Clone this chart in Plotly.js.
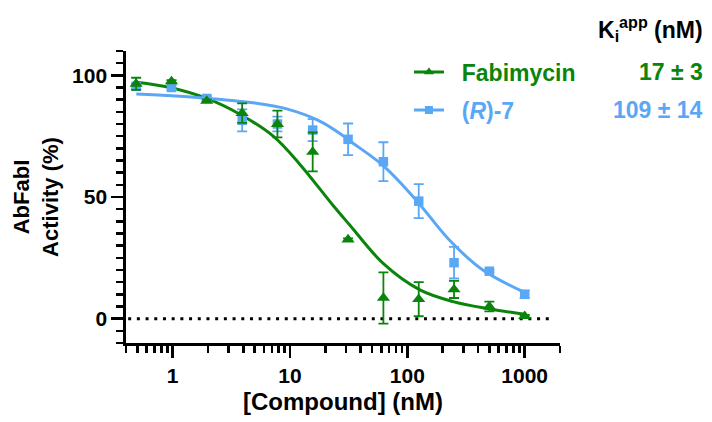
<!DOCTYPE html>
<html>
<head>
<meta charset="utf-8">
<script src="https://cdn.plot.ly/plotly-3.0.1.min.js"></script>
<style>html,body{margin:0;padding:0;background:#fff;}</style>
</head>
<body>
<div id="chart" style="width:712px;height:422px;"></div>
<script>
// concentrations (nM), 2-fold dilutions
const conc = [0.488, 0.977, 1.95, 3.91, 7.81, 15.6, 31.25, 62.5, 125, 250, 500, 1000];

// Fabimycin measured activity (%) and error
const fabiY   = [96.5, 97.5, 89.5, 84.5, 80, 68.5, 32.5, 8.5, 8, 12, 5, 1];
const fabiErr = [2.5, 0.5, 0.5, 4, 5.5, 8, 0.5, 10.5, 7, 3.5, 2, 0.5];

// (R)-7 measured activity (%) and error
const r7Y   = [95.5, 95, 90.5, 81.5, 80, 77.5, 73.7, 64.5, 48.3, 23, 19.5, 10];
const r7Err = [1, 1, 1, 4.5, 3, 4.5, 6.5, 8, 7, 6.5, 0.5, 1.5];

// fitted curves
const fabiFitX = [0.49, 0.95, 1.95, 3.74, 7.19, 12.1, 23.3, 32.4, 62.2, 128, 245, 505, 1000];
const fabiFitY = [97.2, 95, 90.5, 84, 75, 63.5, 46.5, 38.4, 22.7, 11.8, 7, 4, 1.8];
const r7FitX = [0.49, 1.81, 4.83, 9.36, 17.9, 26.8, 32.4, 62.2, 119.5, 229, 440, 1000];
const r7FitY = [92.3, 90.7, 88.7, 86.2, 81.2, 76, 73, 62.9, 48.6, 32.2, 20, 10.8];

// axis ticks
const xMajor = [1, 10, 100, 1000];
const xMajorText = ['1', '10', '100', '1000'];
const xMinor = [0.4,0.5,0.6,0.7,0.8,0.9,2,3,4,5,6,7,8,9,20,30,40,50,60,70,80,90,200,300,400,500,600,700,800,900,2000];
const yMajor = [0, 50, 100];

// legend / Ki labels
const names = ['Fabimycin', '(<i>R</i>)-7'];
const kiText = ['17 ± 3', '109 ± 14'];

const green = '#0a840a';
const blue = '#5aa7f6';
const FONT = 'Liberation Sans, Arial, Helvetica, sans-serif';

const traces = [
  {x: fabiFitX, y: fabiFitY, mode: 'lines', line: {color: green, width: 3, shape: 'spline'}, showlegend: false, hoverinfo: 'skip'},
  {x: r7FitX, y: r7FitY, mode: 'lines', line: {color: blue, width: 3, shape: 'spline'}, showlegend: false, hoverinfo: 'skip'},
  {x: conc, y: r7Y, mode: 'markers', marker: {symbol: 'square', size: 9.5, color: blue},
   error_y: {type: 'data', array: r7Err, visible: true, color: blue, thickness: 1.8, width: 5}, showlegend: false},
  {x: conc, y: fabiY, mode: 'markers', marker: {symbol: 'triangle-up', size: 11.5, color: green},
   error_y: {type: 'data', array: fabiErr, visible: true, color: green, thickness: 1.8, width: 5}, showlegend: false},
  // legend entries
  {x: [null], y: [null], mode: 'lines+markers', name: '\u00a0\u00a0' + names[0],
   line: {color: green, width: 3}, marker: {symbol: 'triangle-up', size: 9, color: green}, legend: 'legend'},
  {x: [null], y: [null], mode: 'lines+markers', name: '\u00a0\u00a0' + names[1],
   line: {color: blue, width: 3}, marker: {symbol: 'square', size: 8, color: blue}, legend: 'legend2'}
];

const legBase = {xanchor: 'left', yanchor: 'middle', bgcolor: 'rgba(0,0,0,0)', borderwidth: 0, itemwidth: 30,
  itemclick: false};

const layout = {
  width: 712, height: 422,
  margin: {l: 126, r: 152, t: 51, b: 79},
  paper_bgcolor: '#fff', plot_bgcolor: '#fff',
  font: {family: FONT, color: '#000'},
  xaxis: {
    type: 'log', range: [Math.log10(0.4), Math.log10(2000)],
    showline: true, linecolor: '#000', linewidth: 2.7, mirror: false,
    showgrid: false, zeroline: false,
    ticks: 'outside', ticklen: 12, tickwidth: 2.5, tickcolor: '#000',
    tickmode: 'array', tickvals: xMajor, ticktext: xMajorText,
    tickfont: {size: 21, weight: 'bold', family: FONT},
    minor: {tickmode: 'array', tickvals: xMinor, ticks: 'outside', ticklen: 7, tickwidth: 2.5, tickcolor: '#000', showgrid: false},
    title: {text: '[Compound] (nM)', font: {size: 24, weight: 'bold', family: FONT}, standoff: 8}
  },
  yaxis: {
    range: [-10, 110],
    showline: true, linecolor: '#000', linewidth: 2.7,
    showgrid: false, zeroline: false,
    ticks: 'outside', ticklen: 12, tickwidth: 2.5, tickcolor: '#000',
    tickmode: 'array', tickvals: yMajor,
    tickfont: {size: 21, weight: 'bold', family: FONT},
    minor: {dtick: 5, tick0: 0, ticks: 'outside', ticklen: 7, tickwidth: 2.5, tickcolor: '#000', showgrid: false},
    title: {text: 'AbFabI<br>Activity (%)', font: {size: 22, weight: 'bold', family: FONT}, standoff: 8}
  },
  shapes: [
    {type: 'line', xref: 'paper', yref: 'y', x0: 0.005, x1: 0.985, y0: 0, y1: 0,
     line: {color: '#000', width: 3, dash: '3px,5.7px'}, layer: 'below'}
  ],
  legend: Object.assign({}, legBase, {x: 0.652, y: 0.928, font: {size: 23, weight: 'bold', color: green, family: FONT}}),
  legend2: Object.assign({}, legBase, {x: 0.652, y: 0.798, font: {size: 23, weight: 'bold', color: blue, family: FONT}}),
  annotations: [
    {xref: 'paper', yref: 'paper', x: 1.334, y: 1.075, xanchor: 'right', yanchor: 'middle', showarrow: false,
     text: '<b>K<sub>i</sub><sup>app</sup> (nM)</b>', font: {size: 23, color: '#000', family: FONT}},
    {xref: 'paper', yref: 'paper', x: 1.334, y: 0.928, xanchor: 'right', yanchor: 'middle', showarrow: false,
     text: '<b>' + kiText[0] + '</b>', font: {size: 23, color: green, family: FONT}},
    {xref: 'paper', yref: 'paper', x: 1.334, y: 0.798, xanchor: 'right', yanchor: 'middle', showarrow: false,
     text: '<b>' + kiText[1] + '</b>', font: {size: 23, color: blue, family: FONT}}
  ]
};

Plotly.newPlot('chart', traces, layout, {displayModeBar: false, staticPlot: true});
</script>
</body>
</html>
